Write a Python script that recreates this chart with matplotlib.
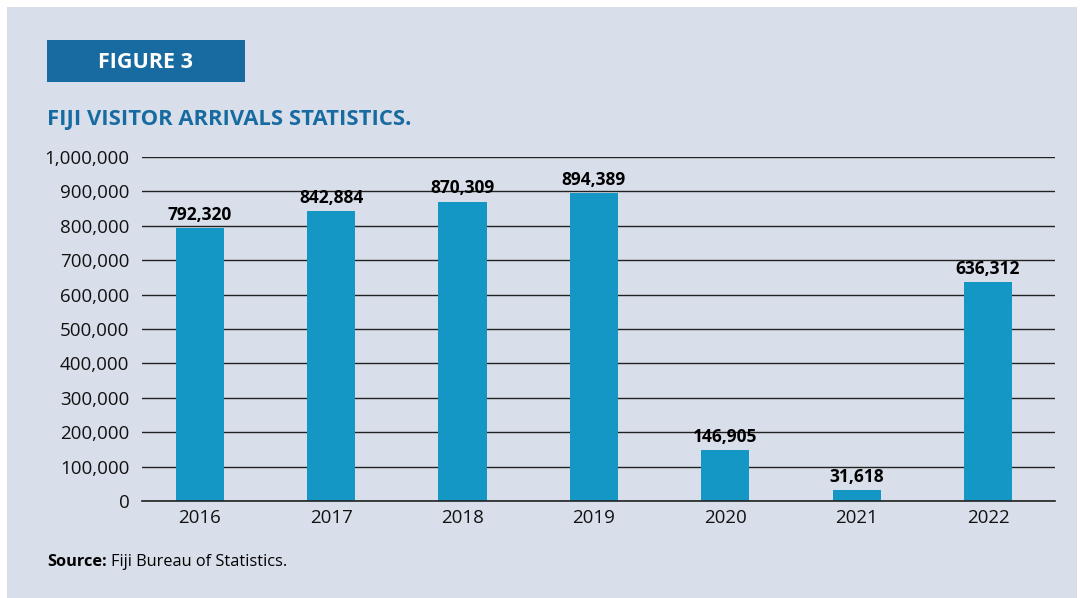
import matplotlib.pyplot as plt
import matplotlib.patches as patches
from matplotlib.ticker import FuncFormatter

years = ['2016', '2017', '2018', '2019', '2020', '2021', '2022']
arrivals = [792320, 842884, 870309, 894389, 146905, 31618, 636312]

panel_bg = '#D9DFEA'
bar_blue = '#1497C4'
head_blue = '#176BA0'

plt.rcParams['font.family'] = ['Open Sans', 'DejaVu Sans']

fig = plt.figure(figsize=(10.8, 5.98), dpi=100)
fig.patch.set_facecolor('white')

# light panel behind everything
fig.patches.append(patches.Rectangle((7 / 1080, 0), 1070 / 1080, 591 / 598,
                                     transform=fig.transFigure,
                                     facecolor=panel_bg, edgecolor='none', zorder=-2))

# "FIGURE 3" tag
fig.patches.append(patches.Rectangle((47 / 1080, 1 - 82 / 598), 198 / 1080, 42 / 598,
                                     transform=fig.transFigure,
                                     facecolor=head_blue, edgecolor='none', zorder=-1))
fig.text(146 / 1080, 1 - 62 / 598, 'FIGURE 3', color='white', fontsize=15.5,
         fontweight='bold', ha='center', va='center')

fig.text(47 / 1080, 1 - 120 / 598, 'FIJI VISITOR ARRIVALS STATISTICS.',
         color=head_blue, fontsize=15.8, fontweight='bold', ha='left', va='center',
         family=['Liberation Sans Narrow', 'Open Sans'])

ax = fig.add_axes([142 / 1080, 1 - 501 / 598, 913 / 1080, 344 / 598], zorder=1)
ax.set_facecolor('none')

x = range(len(years))
ax.bar(x, arrivals, width=0.366, color=bar_blue, zorder=3)
for xi, v in zip(x, arrivals):
    ax.text(xi, v + 12000, f'{v:,}', ha='center', va='bottom',
            fontsize=12.5, fontweight='bold', color='black', zorder=4)

ax.set_xlim(-0.44, len(years) - 0.49)
ax.set_ylim(0, 1000000)
ax.set_yticks(range(0, 1000001, 100000))
ax.yaxis.set_major_formatter(FuncFormatter(lambda v, p: f'{int(v):,}'))
ax.set_xticks(list(x))
ax.set_xticklabels(years)
ax.grid(axis='y', color='#222222', linewidth=1.0, zorder=1)
ax.axhline(0, color='#222222', linewidth=1.2, clip_on=False, zorder=4)
ax.set_axisbelow(True)
for s in ax.spines.values():
    s.set_visible(False)
ax.tick_params(axis='both', length=0, labelsize=13.5, colors='#111111')
ax.tick_params(axis='y', pad=9)
ax.tick_params(axis='x', pad=6)

# source line: bold label followed by regular text
src = fig.text(47 / 1080, 1 - 562 / 598, 'Source:', fontsize=11.8, fontweight='bold',
               ha='left', va='center', color='black')
fig.canvas.draw()
bb = src.get_window_extent()
fig.text((bb.x1 + 4) / 1080, 1 - 562 / 598, 'Fiji Bureau of Statistics.',
         fontsize=11.8, ha='left', va='center', color='black')

fig.savefig('out.png', dpi=100, facecolor=fig.get_facecolor())
